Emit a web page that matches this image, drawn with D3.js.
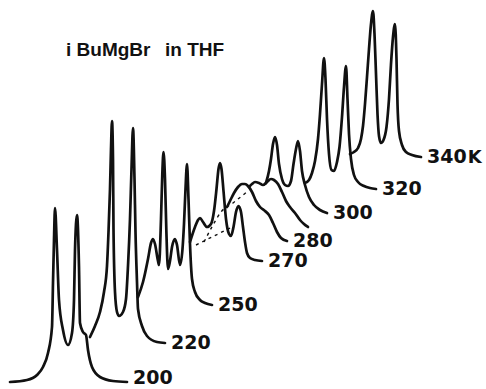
<!DOCTYPE html>
<html>
<head>
<meta charset="utf-8">
<script src="https://cdn.jsdelivr.net/npm/d3@7/dist/d3.min.js"></script>
<style>
  body { margin: 0; background: #fff; }
  svg { display: block; }
</style>
</head>
<body>
<svg id="chart" width="486" height="389"></svg>
<script>
// stacked spectra, front (200 K) to back (340 K)
const temperatures = ['200', '220', '250', '270', '280', '290', '300', '320', '340'];
const tempLabels = ['200', '220', '250', '270', '280', '', '300', '320', '340'];
const unitLabel = 'K';

// end of each baseline in the stack (shift units / intensity units)
const stackX = [127, 165, 212, 262, 287, 308, 327, 376, 421];
const stackY = [7, 46, 84, 128, 148, 162, 176, 200, 232];

// visible part of each trace: [shift from baseline end, intensity]
const spec200 = [[117,0],[100,2],[90,7],[84,15],[79,29],[75,55],[74,99],[73,142],[72,174],[70,132],[68,82],[64,52],[59,37],[55,49],[53,82],[52,132],[50,167],[48,115],[47,59],[44,50],[41,47],[39,32],[35,15],[27,5],[14,1],[0,0]];
const spec220 = [[75,6],[70,17],[65,31],[61,51],[58,77],[56.5,111],[55,154],[54,194],[53,222],[52,184],[51.5,114],[50,51],[48,31],[46,27],[42,31],[39,44],[37,77],[35,124],[33.5,174],[32,215],[30.5,164],[29.5,111],[28,61],[27,34],[23,17],[18,7],[8,1],[0,0]];
const spec250 = [[74,8],[69,23],[64,46],[61,62],[59,66],[57,61],[54,44],[53,40],[51,86],[49.7,131],[48.5,153],[47,126],[45.7,76],[44,36],[42,44],[40,58],[37,66],[35,60],[32,40],[29.5,56],[28,81],[26.5,116],[25,141],[23.5,106],[22,61],[20,26],[17,13],[12,5],[7,2],[0,0]];
const spec270 = [[72,19],[67,34],[64,41],[62,43],[59,39],[55,34],[51,37],[48,50],[45.5,72],[43.5,92],[42,98],[40.5,92],[38.5,70],[36,42],[33,27],[31,25],[28.5,34],[26,49],[23.5,55],[21,49],[19,34],[17,19],[15,8],[12,3],[7,1],[0,0]];
const spec280 = [[60,34],[57,40],[53,48],[49,54],[45,57],[42,57],[39,55],[35,49],[31,40],[27,34],[22,30],[18,26],[14,18],[10,9],[6,3],[0,0]];
const spec290 = [[59,40],[56,43],[53,45],[49,44],[45,42],[41,45],[37,48],[34,47],[30,43],[26,35],[22,26],[18,20],[13,14],[8,7],[4,3],[0,0]];
const spec300 = [[61,30],[58,42],[56,54],[54,69],[52,76],[50,68],[48,49],[45,34],[42,28],[39,27],[36,32],[33.5,49],[31,64],[29,72],[27,62],[25,42],[22,28],[18,16],[13,8],[7,3],[0,0]];
const spec320 = [[71,6],[67,9],[64,16],[61,28],[58,50],[56,75],[54,105],[52,131],[50.5,110],[49,70],[47,35],[44.5,19],[42,18],[39,27],[36.5,42],[34,72],[32,102],[30,123],[28.5,90],[27,55],[25,30],[22,14],[18,7],[12,3],[6,1],[0,0]];
const spec340 = [[71,3],[67,5],[63,9],[60,18],[58,31],[56,53],[54,80],[52,108],[50,133],[48,146],[46.5,123],[45,83],[43.5,43],[42,21],[40,14],[37.5,17],[34.5,30],[32,58],[30,93],[28,120],[26,133],[24.5,98],[23.5,53],[22,26],[19,12],[15,5],[9,2],[0,0]];
const spectra = [spec200, spec220, spec250, spec270, spec280, spec290, spec300, spec320, spec340];

// dashed peak-tracking lines, drawn in the 270 K frame
const trackA = [[66,16],[32,33]];
const trackB = [[58,19],[49,36],[41,49],[29,58],[14,70]];

const width = 486, height = 389;
const svg = d3.select('#chart');

// page frame for the stack offsets
const px = d3.scaleLinear().domain([0, width]).range([0, width]);
const py = d3.scaleLinear().domain([0, height]).range([height, 0]);

// local scales: shift grows to the left, intensity grows upwards
const xShift = d3.scaleLinear().domain([0, 120]).range([0, -120]);
const yInt = d3.scaleLinear().domain([0, 240]).range([0, -240]);

const line = d3.line()
  .x(d => xShift(d[0]))
  .y(d => yInt(d[1]))
  .curve(d3.curveMonotoneX);

svg.append('text')
  .attr('x', 66).attr('y', 56)
  .attr('font-family', 'Liberation Sans, Arial, sans-serif')
  .attr('font-weight', 'bold')
  .attr('font-size', 19)
  .attr('fill', '#111')
  .text('i BuMgBr');
svg.append('text')
  .attr('x', 165).attr('y', 56)
  .attr('font-family', 'Liberation Sans, Arial, sans-serif')
  .attr('font-weight', 'bold')
  .attr('font-size', 19)
  .attr('fill', '#111')
  .text('in THF');

const traces = svg.append('g')
  .selectAll('g')
  .data(spectra)
  .join('g')
  .attr('transform', (d, i) => `translate(${px(stackX[i])},${py(stackY[i])})`);

traces.append('path')
  .attr('d', d => line(d))
  .attr('fill', 'none')
  .attr('stroke', '#111')
  .attr('stroke-width', 2.7)
  .attr('stroke-linejoin', 'round')
  .attr('stroke-linecap', 'round');

// front label sits on the bottom edge, lift it a little so it stays in view
const labels = traces.append('text')
  .attr('x', 6)
  .attr('y', (d, i) => i === 0 ? 2 : 6)
  .attr('font-family', 'DejaVu Sans, sans-serif')
  .attr('font-weight', 'bold')
  .attr('font-size', 19)
  .attr('fill', '#111')
  .text((d, i) => tempLabels[i]);

// unit only on the last (340 K) label
labels.filter((d, i) => i === spectra.length - 1)
  .append('tspan')
  .attr('dx', 1)
  .attr('font-size', 18)
  .text(unitLabel);

const frame270 = traces.filter((d, i) => temperatures[i] === '270');
[trackA, trackB].forEach(t => {
  frame270.append('path')
    .attr('d', line(t))
    .attr('fill', 'none')
    .attr('stroke', '#111')
    .attr('stroke-width', 1.4)
    .attr('stroke-dasharray', '3,4');
});
</script>
</body>
</html>
